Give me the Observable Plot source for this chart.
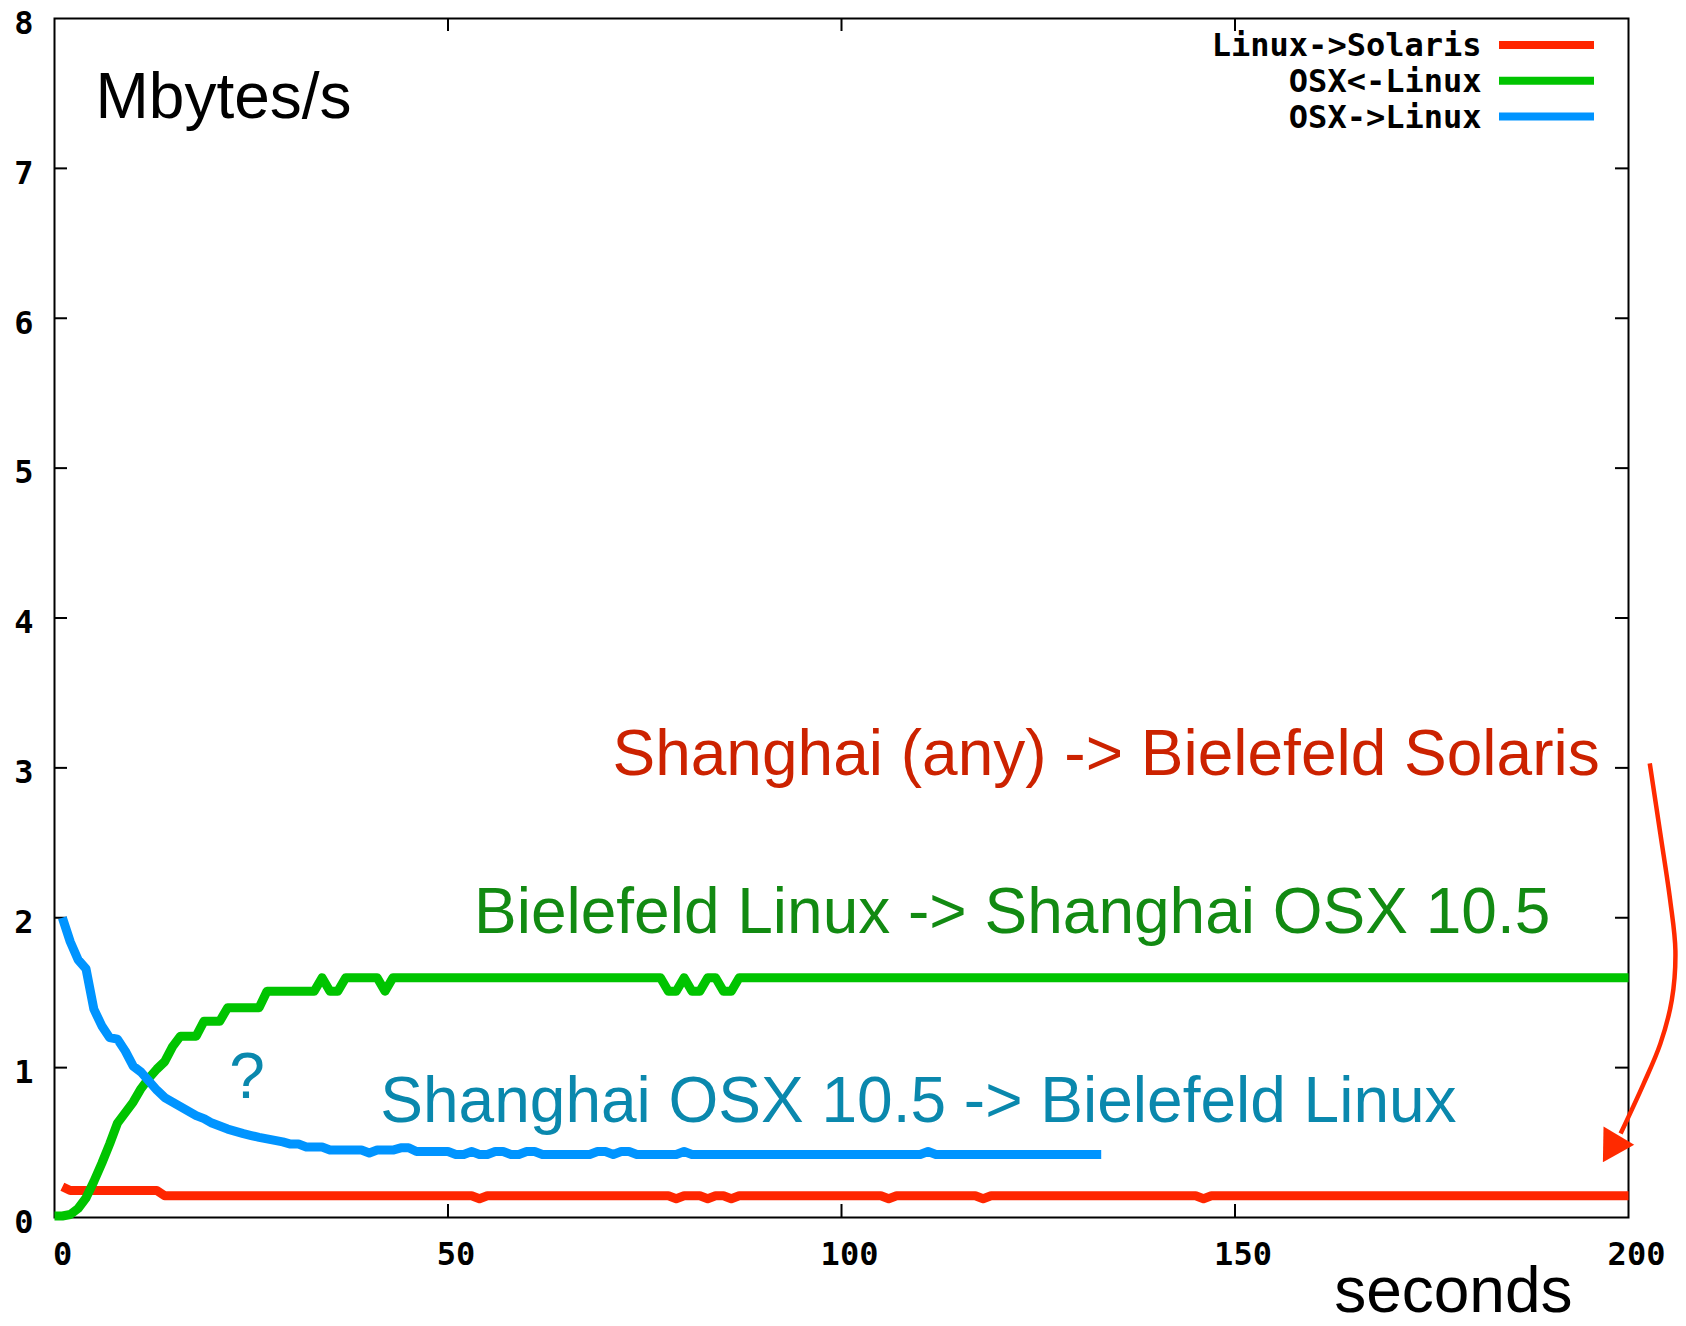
<!DOCTYPE html>
<html>
<head>
<meta charset="utf-8">
<script src="https://cdn.jsdelivr.net/npm/d3@7"></script>
<script src="https://cdn.jsdelivr.net/npm/@observablehq/plot@0.6"></script>
<style>
  html, body { margin: 0; padding: 0; background: #fff; overflow: hidden; }
  #chart svg { display: block; }
</style>
</head>
<body>
<div id="chart"></div>
<script>
// ---------------- data (seconds, Mbytes/s) ----------------
const xTicks = [0, 50, 100, 150, 200];
const yTicks = [0, 1, 2, 3, 4, 5, 6, 7, 8];

const seriesNames = ["Linux->Solaris", "OSX<-Linux", "OSX->Linux"];

// Linux->Solaris (red)
const redData = [
  [1, 0.205], [2, 0.18], [13, 0.18], [14, 0.145], [53, 0.145], [54, 0.125], [55, 0.145],
  [78, 0.145], [79, 0.125], [80, 0.145], [82, 0.145], [83, 0.125], [84, 0.145],
  [85, 0.145], [86, 0.125], [87, 0.145], [105, 0.145], [106, 0.125], [107, 0.145],
  [117, 0.145], [118, 0.125], [119, 0.145], [145, 0.145], [146, 0.125], [147, 0.145],
  [200, 0.145]
];

// OSX<-Linux (green)
const greenData = [
  [0, 0.01], [1, 0.01], [2, 0.02], [3, 0.06], [4, 0.13], [5, 0.24], [6, 0.36], [7, 0.49],
  [8, 0.63], [9, 0.70], [10, 0.77], [11, 0.86], [12, 0.93], [13, 0.99], [14, 1.04],
  [15, 1.14], [16, 1.21], [18, 1.21], [19, 1.31], [21, 1.31], [22, 1.40], [26, 1.40],
  [27, 1.51], [33, 1.51], [34, 1.6], [35, 1.51], [36, 1.51], [37, 1.6], [41, 1.6],
  [42, 1.51], [43, 1.6], [77, 1.6], [78, 1.51], [79, 1.51], [80, 1.6], [81, 1.51],
  [82, 1.51], [83, 1.6], [84, 1.6], [85, 1.51], [86, 1.51], [87, 1.6], [200, 1.6]
];

// OSX->Linux (blue)
const blueData = [
  [1, 2.0], [2, 1.84], [3, 1.72], [4, 1.66], [5, 1.39], [6, 1.28], [7, 1.20], [8, 1.19],
  [9, 1.11], [10, 1.01], [11, 0.97], [12, 0.91], [13, 0.85], [14, 0.80], [15, 0.77],
  [16, 0.74], [17, 0.71], [18, 0.68], [19, 0.66], [20, 0.63], [21, 0.61], [22, 0.59],
  [23, 0.575], [24, 0.56], [25, 0.547], [26, 0.535], [27, 0.525], [28, 0.515],
  [29, 0.505], [30, 0.49], [31, 0.49], [32, 0.47], [34, 0.47], [35, 0.45], [39, 0.45],
  [40, 0.43], [41, 0.45], [43, 0.45], [44, 0.465], [45, 0.465], [46, 0.44], [50, 0.44],
  [51, 0.42], [52, 0.42], [53, 0.44], [54, 0.42], [55, 0.42], [56, 0.44], [57, 0.44],
  [58, 0.42], [59, 0.42], [60, 0.44], [61, 0.44], [62, 0.42], [68, 0.42], [69, 0.44],
  [70, 0.44], [71, 0.42], [72, 0.44], [73, 0.44], [74, 0.42], [79, 0.42], [80, 0.44],
  [81, 0.42], [110, 0.42], [111, 0.44], [112, 0.42], [133, 0.42]
];

// annotation texts, placed in data units (seconds, Mbytes/s) at their baseline start
const annotationLabels = [
  "Shanghai (any) -> Bielefeld Solaris",
  "Bielefeld Linux -> Shanghai OSX 10.5",
  "Shanghai OSX 10.5 -> Bielefeld Linux",
  "?"
];
const annotationX = [70.9, 53.3, 41.4, 22.2];
const annotationY = [2.95, 1.895, 0.636, 0.794];

// curved annotation arrow (data units)
const arrowPath = [
  [202.7, 3.03], [204.05, 2.56], [205.3, 2.115], [205.96, 1.78], [205.5, 1.45],
  [204.05, 1.16], [201.9, 0.89], [199.0, 0.56]
];
const arrowHead = [[198.1, 0.487]];

// ---------------- layout / style ----------------
const W = 1686, H = 1326;
const mL = 54, mR = 58, mT = 18, mB = 109;
const plotW = W - mL - mR, plotH = H - mT - mB;
const tickLen = 13;
const seriesColors = ["#ff2600", "#00c400", "#0094ff"];
const annotationColors = ["#cc2200", "#128a12", "#0a88ad", "#0a88ad"];
const monoFont = "'DejaVu Sans Mono', monospace";
const sansFont = "'Liberation Sans', Arial, sans-serif";
const legendRows = [44.5, 80.2, 115.9];
const fmt = d => String(d);

const lineOpts = (color) => ({
  x: d => d[0], y: d => d[1], stroke: color, strokeWidth: 9,
  strokeLinejoin: "round", strokeLinecap: "butt"
});

const marks = [
  Plot.frame({stroke: "#000", strokeWidth: 2}),
  // inward mirrored ticks
  Plot.ruleY(yTicks.slice(1, -1), {stroke: "#000", strokeWidth: 2, insetRight: plotW - tickLen}),
  Plot.ruleY(yTicks.slice(1, -1), {stroke: "#000", strokeWidth: 2, insetLeft: plotW - tickLen}),
  Plot.ruleX(xTicks.slice(1, -1), {stroke: "#000", strokeWidth: 2, insetTop: plotH - tickLen}),
  Plot.ruleX(xTicks.slice(1, -1), {stroke: "#000", strokeWidth: 2, insetBottom: plotH - tickLen}),
  // tick labels
  Plot.axisY(yTicks, {anchor: "left", tickSize: 0, tickPadding: 21, dy: 5, label: null,
    tickFormat: fmt, fontFamily: monoFont, fontWeight: "bold", fontSize: 32, fill: "#000"}),
  Plot.axisX(xTicks, {anchor: "bottom", tickSize: 0, tickPadding: 25, dx: 8, label: null,
    tickFormat: fmt, fontFamily: monoFont, fontWeight: "bold", fontSize: 32, fill: "#000"}),
  // series
  Plot.line(redData, lineOpts(seriesColors[0])),
  Plot.line(greenData, lineOpts(seriesColors[1])),
  Plot.line(blueData, lineOpts(seriesColors[2])),
  // axis titles
  Plot.text(["Mbytes/s"], {frameAnchor: "top-left", text: d => d, dx: 41, dy: 117 - mT,
    lineAnchor: "bottom", textAnchor: "start", fontFamily: sansFont, fontSize: 64, fill: "#000"}),
  Plot.text(["seconds"], {frameAnchor: "bottom-right", text: d => d, dx: -56, dy: 94.7,
    lineAnchor: "bottom", textAnchor: "end", fontFamily: sansFont, fontSize: 64, fill: "#000"}),
  // annotations
  ...annotationLabels.map((label, i) => Plot.text([label], {
    x: () => annotationX[i], y: () => annotationY[i], text: d => d,
    textAnchor: "start", lineAnchor: "bottom", fontFamily: sansFont, fontSize: 64,
    fill: annotationColors[i]
  })),
  Plot.line(arrowPath, {x: d => d[0], y: d => d[1], curve: "catmull-rom",
    stroke: "#ff2a00", strokeWidth: 4.5, strokeLinecap: "butt"}),
  Plot.dot(arrowHead, {x: d => d[0], y: d => d[1], symbol: "triangle", r: 13.3,
    rotate: 211, fill: "#ff2a00", stroke: "none"}),
  // legend
  ...seriesNames.map((name, i) => Plot.text([name], {
    frameAnchor: "top-right", text: d => d, dx: -147, dy: legendRows[i] - mT + 1,
    textAnchor: "end", lineAnchor: "middle", fontFamily: monoFont, fontWeight: "bold",
    fontSize: 32, fill: "#000"
  })),
  ...seriesNames.map((name, i) => Plot.ruleY([yTicks[yTicks.length - 1]], {
    dy: legendRows[i] - mT, insetLeft: 1445, insetRight: 34,
    stroke: seriesColors[i], strokeWidth: 8
  }))
];

const chart = Plot.plot({
  width: W, height: H,
  marginLeft: mL, marginRight: mR, marginTop: mT, marginBottom: mB,
  x: {domain: [0, 200]},
  y: {domain: [0, 8]},
  style: {background: "#fff", color: "#000", overflow: "visible"},
  marks
});
document.getElementById("chart").appendChild(chart);
</script>
</body>
</html>
